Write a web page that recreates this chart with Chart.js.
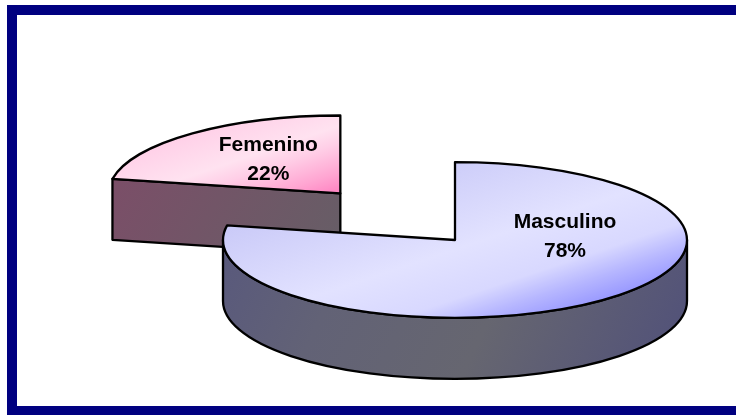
<!DOCTYPE html>
<html>
<head>
<meta charset="utf-8">
<script src="https://cdn.jsdelivr.net/npm/chart.js@4/dist/chart.umd.min.js"></script>
<style>
  html, body { margin: 0; padding: 0; background: #fff; overflow: hidden; }
  #frame {
    position: absolute; left: 7px; top: 5px; width: 740px; height: 391px;
    border-style: solid; border-color: #000080;
    border-width: 10px 0 9px 10px;
  }
  #wrap { position: absolute; left: 0; top: 0; width: 736px; height: 415px; }
</style>
</head>
<body>
<div id="frame"></div>
<div id="wrap"><canvas id="c"></canvas></div>
<script>
// data
const sliceLabels = ['Masculino', 'Femenino']
const sliceValues = [78, 22]

// look of the 3d pie
const look = {
    tilt: 0.336,
    depth: 61,
    lineWidth: 2.3,
    font: 'bold 21px "Liberation Sans", Arial, sans-serif',
    lineGap: 29,
    labelShift: [[110, -3], [-72, -34]],
    // gradient line of the top face, as fractions of the face's box
    topLine: [[0.17, 0.25, 0.3, 1.4], [0, 0.45, 0.154, 1.78]],
    topStops: [
        [[0, '#CACAF8'], [0.5, '#E2E2FF'], [0.75, '#D8D8FF'], [0.88, '#B6B6FF'], [1, '#9A9AFF']],
        [[0, '#FFCCE6'], [0.45, '#FFE2F0'], [0.6, '#FFCFE7'], [0.85, '#FFA6D2'], [1, '#FF88C4']]
    ],
    sideStops: [
        [[0, '#56567E'], [0.3, '#626276'], [0.6, '#666670'], [1, '#50507A']],
        [[0, '#7E4C68'], [1, '#665E66']]
    ]
}

function makeGrad(ctx, x0, y0, x1, y1, stops) {
    let g = ctx.createLinearGradient(x0, y0, x1, y1)
    stops.forEach(s => g.addColorStop(s[0], s[1]))
    return g
}

const pie3d = {
    id: 'pie3d',
    beforeDatasetsDraw(chart) {
        const ctx = chart.ctx
        const meta = chart.getDatasetMeta(0)
        const sy = look.tilt
        const depth = look.depth
        const total = sliceValues.reduce((a, b) => a + b, 0)

        let slices = meta.data.map((arc, i) => {
            const mid = (arc.startAngle + arc.endAngle) / 2
            // same shift the arc element uses for its offset
            const off = (arc.options.offset || 0) / 4
            const fix = 1 - Math.sin(Math.min(Math.PI, arc.circumference))
            const d = off * (1 + fix)
            const cx = arc.x + Math.cos(mid) * d
            const cy = arc.y + Math.sin(mid) * d
            return {
                i: i, s: arc.startAngle, e: arc.endAngle, r: arc.outerRadius,
                X: cx, Y: arc.y + (cy - arc.y) * sy
            }
        })
        // back slices first
        slices.sort((a, b) => a.Y - b.Y)

        ctx.save()
        ctx.lineWidth = look.lineWidth
        ctx.strokeStyle = '#000'
        ctx.lineJoin = 'round'

        slices.forEach(sl => {
            const rx = sl.r, ry = sl.r * sy
            const pt = a => [sl.X + rx * Math.cos(a), sl.Y + ry * Math.sin(a)]

            // bounding box of the top face
            let xs = [sl.X], ys = [sl.Y]
            let angs = [sl.s, sl.e]
            for (let k = -2; k <= 6; k++) {
                let a = k * Math.PI / 2
                if (a > sl.s && a < sl.e) angs.push(a)
            }
            angs.forEach(a => { let q = pt(a); xs.push(q[0]); ys.push(q[1]) })
            const bx0 = Math.min(...xs), bx1 = Math.max(...xs)
            const by0 = Math.min(...ys), by1 = Math.max(...ys)
            const bw = bx1 - bx0, bh = by1 - by0

            ctx.fillStyle = makeGrad(ctx, bx0, by0, bx1, by1 + depth, look.sideStops[sl.i])

            // cut faces that look towards us
            const faces = []
            if (Math.cos(sl.s) < -0.001) faces.push(sl.s)
            if (Math.cos(sl.e) > 0.001) faces.push(sl.e)
            faces.forEach(a => {
                let q = pt(a)
                ctx.beginPath()
                ctx.moveTo(sl.X, sl.Y)
                ctx.lineTo(q[0], q[1])
                ctx.lineTo(q[0], q[1] + depth)
                ctx.lineTo(sl.X, sl.Y + depth)
                ctx.closePath()
                ctx.fill()
                ctx.stroke()
            })

            // outer wall, only the front half
            for (let base = -2 * Math.PI; base <= 2 * Math.PI; base += 2 * Math.PI) {
                let a0 = Math.max(sl.s, base), a1 = Math.min(sl.e, base + Math.PI)
                if (a1 <= a0) continue
                ctx.beginPath()
                ctx.ellipse(sl.X, sl.Y, rx, ry, 0, a0, a1)
                let q = pt(a1)
                ctx.lineTo(q[0], q[1] + depth)
                ctx.ellipse(sl.X, sl.Y + depth, rx, ry, 0, a1, a0, true)
                ctx.closePath()
                ctx.fill()
                ctx.stroke()
            }

            // top face
            const tl = look.topLine[sl.i]
            ctx.fillStyle = makeGrad(ctx, bx0 + tl[0] * bw, by0 + tl[1] * bh,
                bx0 + tl[2] * bw, by0 + tl[3] * bh, look.topStops[sl.i])
            ctx.beginPath()
            ctx.moveTo(sl.X, sl.Y)
            ctx.ellipse(sl.X, sl.Y, rx, ry, 0, sl.s, sl.e)
            ctx.closePath()
            ctx.fill()
            ctx.stroke()
        })

        // labels
        ctx.fillStyle = '#000'
        ctx.font = look.font
        ctx.textAlign = 'center'
        ctx.textBaseline = 'middle'
        slices.forEach(sl => {
            const sh = look.labelShift[sl.i]
            const lx = sl.X + sh[0], ly = sl.Y + sh[1]
            const pct = Math.round(sliceValues[sl.i] / total * 100) + '%'
            ctx.fillText(sliceLabels[sl.i], lx, ly - look.lineGap / 2)
            ctx.fillText(pct, lx, ly + look.lineGap / 2)
        })
        ctx.restore()
        return false
    }
}

new Chart(document.getElementById('c'), {
    type: 'pie',
    data: {
        labels: sliceLabels,
        datasets: [{
            data: sliceValues,
            backgroundColor: ['#E0E0FF', '#FFD6EA'],
            borderColor: '#000',
            offset: [0, 707]
        }]
    },
    options: {
        responsive: true,
        maintainAspectRatio: false,
        animation: false,
        radius: 232,
        cutout: '0%',
        layout: { padding: { left: 174, right: 0, top: 65, bottom: 0 } },
        plugins: {
            legend: { display: false },
            tooltip: { enabled: false }
        }
    },
    plugins: [pie3d]
})
</script>
</body>
</html>
